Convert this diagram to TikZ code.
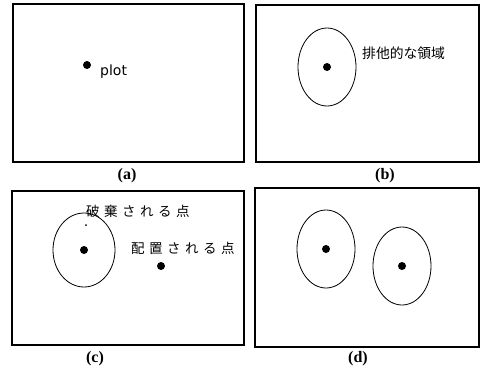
\documentclass[tikz,border=0pt]{standalone}
\usepackage{fontspec}
\setmainfont{Liberation Serif}
\newfontfamily\cjk{Noto Sans CJK JP}
\newfontfamily\plotfont{DejaVu Sans}
\newcommand{\jgap}{\hspace{4.5pt}}
\begin{document}
\begin{tikzpicture}[x=1pt,y=-1pt,
  frame/.style={draw=black,line width=1.3pt},
  dot/.style={circle,fill=black,inner sep=0pt,minimum size=8pt},
  smalldot/.style={circle,fill=black,inner sep=0pt,minimum size=2pt},
  caplabel/.style={font=\bfseries\fontsize{16}{16}\selectfont,inner sep=0pt},
  jp/.style={font=\cjk\fontsize{13.8}{13.8}\selectfont,inner sep=0pt,anchor=west},
  jpw/.style={font=\cjk\fontsize{13.5}{13.5}\selectfont,inner sep=0pt,anchor=west}]
\useasboundingbox (0,0) rectangle (480,370);
% frames
\draw[frame] (13,4) rectangle (244,162);
\draw[frame] (256,5) rectangle (479,162);
\draw[frame] (12,191) rectangle (244,345);
\draw[frame] (255,188) rectangle (479,347);
% captions
\node[caplabel] (capa) at (127,176) {(a)};
\node[caplabel] (capb) at (385,176) {(b)};
\node[caplabel] (capc) at (95,359) {(c)};
\node[caplabel] (capd) at (358,359) {(d)};
% (a)
\node[dot] (adot) at (87,65) {};
\node[font=\plotfont\fontsize{14}{14}\selectfont,inner sep=0pt,anchor=west] (aplot) at (100,72) {plot};
% (b)
\draw[line width=0.8pt] (327,67) ellipse [x radius=29, y radius=39];
\node[dot] (bdot) at (327,67) {};
\node[jp] (btext) at (362,53) {排他的な領域};
% (c)
\draw[line width=0.8pt] (84,250) ellipse [x radius=31, y radius=37];
\node[dot] (cdot) at (84,250) {};
\node[smalldot] (csmall) at (86,225) {};
\node[dot] (cdot2) at (161,266) {};
\node[jpw] (ctext1) at (86,211) {破\jgap 棄\jgap さ\jgap れ\jgap る\jgap 点};
\node[jpw] (ctext2) at (131,248) {配\jgap 置\jgap さ\jgap れ\jgap る\jgap 点};
% (d)
\draw[line width=0.8pt] (326,249) ellipse [x radius=29, y radius=39];
\node[dot] (ddot1) at (326,249) {};
\draw[line width=0.8pt] (402,266) ellipse [x radius=29, y radius=39];
\node[dot] (ddot2) at (402,266) {};
\end{tikzpicture}
\end{document}
